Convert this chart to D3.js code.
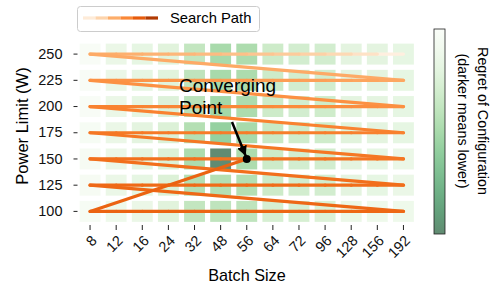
<!DOCTYPE html>
<html>
<head>
<meta charset="utf-8">
<script src="https://cdn.jsdelivr.net/npm/d3@7.9.0/dist/d3.min.js"></script>
<style>
  body { margin: 0; background: #fff; }
  svg { font-family: "Liberation Sans", Arial, sans-serif; }
</style>
</head>
<body>
<svg id="chart" width="498" height="288"></svg>
<script>
const batchSizes = [8, 12, 16, 24, 32, 48, 56, 64, 72, 96, 128, 156, 192];
const powerLimits = [250, 225, 200, 175, 150, 125, 100];

// regret of each configuration, one array per power limit (columns follow batchSizes)
const regret250 = [0.97, 0.85, 0.82, 0.78, 0.62, 0.50, 0.52, 0.67, 0.70, 0.70, 0.80, 0.80, 0.82];
const regret225 = [0.97, 0.85, 0.82, 0.78, 0.60, 0.50, 0.52, 0.67, 0.70, 0.70, 0.80, 0.80, 0.82];
const regret200 = [0.97, 0.85, 0.82, 0.76, 0.58, 0.48, 0.52, 0.67, 0.70, 0.68, 0.80, 0.80, 0.82];
const regret175 = [0.96, 0.85, 0.80, 0.75, 0.55, 0.42, 0.50, 0.65, 0.68, 0.68, 0.78, 0.80, 0.82];
const regret150 = [0.95, 0.85, 0.80, 0.75, 0.52, 0.00, 0.52, 0.67, 0.70, 0.70, 0.80, 0.82, 0.85];
const regret125 = [0.95, 0.85, 0.82, 0.75, 0.55, 0.55, 0.55, 0.67, 0.70, 0.70, 0.80, 0.82, 0.85];
const regret100 = [0.96, 0.88, 0.85, 0.78, 0.62, 0.60, 0.60, 0.72, 0.72, 0.75, 0.85, 0.88, 0.88];
const regretRows = [regret250, regret225, regret200, regret175, regret150, regret125, regret100];

// search path: each power limit is swept from the largest batch size down, then the converging point
const sweepPowers = [250, 225, 200, 175, 150, 125, 100];
const sweepBatches = [192, 156, 128, 96, 72, 64, 56, 48, 32, 24, 16, 12, 8];
const convergePoint = { batch: 56, power: 150 };

const svg = d3.select('#chart');

let x = d3.scaleBand().domain(batchSizes).range([77, 416.5]).paddingInner(0.2).paddingOuter(0.1);
let y = d3.scaleBand().domain(powerLimits).range([41, 224.5]).paddingInner(0.2).paddingOuter(0.1);
let cx = d => x(d) + x.bandwidth() / 2;
let cy = d => y(d) + y.bandwidth() / 2;

let maxRegret = 1;
let shade = r => d3.interpolateGreens(1 - r / maxRegret);

// heatmap cells
let cells = [];
regretRows.forEach((row, i) => {
  row.forEach((r, j) => cells.push({ power: powerLimits[i], batch: batchSizes[j], regret: r }));
});

svg.append('g')
  .selectAll('rect')
  .data(cells)
  .enter()
  .append('rect')
  .attr('x', d => x(d.batch))
  .attr('y', d => y(d.power))
  .attr('width', x.bandwidth())
  .attr('height', y.bandwidth())
  .attr('fill', d => shade(d.regret))
  .attr('fill-opacity', 0.62);

// axes
let yAxis = svg.append('g')
  .attr('transform', 'translate(77.5,0)')
  .call(d3.axisLeft(y).tickSize(4).tickPadding(11));
let xAxis = svg.append('g')
  .attr('transform', 'translate(0,225)')
  .call(d3.axisBottom(x).tickSize(5).tickFormat(''));
[yAxis, xAxis].forEach(a => {
  a.select('.domain').remove();
  a.selectAll('line').attr('stroke', '#222').attr('stroke-width', 1);
});
yAxis.selectAll('text').attr('font-size', 14.5).attr('fill', '#111');

svg.append('g')
  .selectAll('text')
  .data(batchSizes)
  .enter()
  .append('text')
  .attr('transform', d => `translate(${cx(d) + 4},238) rotate(-45)`)
  .attr('text-anchor', 'end')
  .attr('dy', '0.35em')
  .attr('font-size', 14.5)
  .attr('fill', '#111')
  .text(d => d);

svg.append('text')
  .attr('transform', 'translate(22,126) rotate(-90)')
  .attr('text-anchor', 'middle')
  .attr('dominant-baseline', 'central')
  .attr('font-size', 16.5)
  .text('Power Limit (W)');

svg.append('text')
  .attr('x', 247)
  .attr('y', 281)
  .attr('text-anchor', 'middle')
  .attr('font-size', 16.2)
  .text('Batch Size');

// search path
let pathPoints = [];
sweepPowers.forEach(p => sweepBatches.forEach(b => pathPoints.push({ batch: b, power: p })));
pathPoints.push(convergePoint);

let segs = d3.pairs(pathPoints).map(([a, b], i) => ({ a, b, i }));
let pathShade = i => d3.interpolateOranges(0.05 + 0.133 * Math.log(1 + i));

svg.append('g')
  .selectAll('line')
  .data(segs)
  .enter()
  .append('line')
  .attr('x1', d => cx(d.a.batch))
  .attr('y1', d => cy(d.a.power))
  .attr('x2', d => cx(d.b.batch))
  .attr('y2', d => cy(d.b.power))
  .attr('stroke', d => pathShade(d.i))
  .attr('stroke-width', 3.2)
  .attr('stroke-linecap', 'round');

// converging point annotation
let px = cx(convergePoint.batch), py = cy(convergePoint.power);
svg.append('defs').append('marker')
  .attr('id', 'head')
  .attr('viewBox', '0 0 10 10')
  .attr('refX', 10).attr('refY', 5)
  .attr('markerWidth', 4).attr('markerHeight', 4)
  .attr('markerUnits', 'strokeWidth')
  .attr('orient', 'auto')
  .append('path')
  .attr('d', 'M0,0L10,5L0,10z')
  .attr('fill', '#000');

svg.append('line')
  .attr('x1', 232).attr('y1', 122)
  .attr('x2', px - 1).attr('y2', py - 3)
  .attr('stroke', '#000')
  .attr('stroke-width', 2.5)
  .attr('marker-end', 'url(#head)');

svg.append('circle')
  .attr('cx', px).attr('cy', py).attr('r', 4)
  .attr('fill', '#000');

let note = svg.append('text').attr('font-size', 19).attr('fill', '#000');
note.append('tspan').attr('x', 179).attr('y', 92).text('Converging');
note.append('tspan').attr('x', 179).attr('y', 113.5).text('Point');

// legend
let legend = svg.append('g');
legend.append('rect')
  .attr('x', 77.5).attr('y', 6.5)
  .attr('width', 182).attr('height', 25)
  .attr('rx', 3)
  .attr('fill', '#fff')
  .attr('stroke', '#ccc');
let legendStops = [0.08, 0.22, 0.38, 0.52, 0.68, 0.85];
let lx = d3.scaleLinear().domain([0, legendStops.length]).range([83, 158]);
legend.selectAll('line')
  .data(legendStops)
  .enter()
  .append('line')
  .attr('x1', (d, i) => lx(i))
  .attr('x2', (d, i) => lx(i + 1))
  .attr('y1', 18).attr('y2', 18)
  .attr('stroke', d => d3.interpolateOranges(d))
  .attr('stroke-width', 3.2);
legend.append('text')
  .attr('x', 170).attr('y', 18)
  .attr('dy', '0.35em')
  .attr('font-size', 14.8)
  .text('Search Path');

// colorbar
let grad = svg.select('defs').append('linearGradient')
  .attr('id', 'cbar')
  .attr('x1', 0).attr('y1', 0).attr('x2', 0).attr('y2', 1);
d3.range(0, 1.01, 0.1).forEach(t => {
  grad.append('stop')
    .attr('offset', t)
    .attr('stop-color', d3.interpolateGreens(t))
    .attr('stop-opacity', 0.62);
});
svg.append('rect')
  .attr('x', 434).attr('y', 29)
  .attr('width', 11).attr('height', 205)
  .attr('fill', 'url(#cbar)')
  .attr('stroke', '#222')
  .attr('stroke-width', 0.8);

let cbLines = ['Regret of Configuration', '(darker means lower)'];
let cbX = [482.5, 462.5];
svg.append('g')
  .selectAll('text')
  .data(cbLines)
  .enter()
  .append('text')
  .attr('transform', (d, i) => `translate(${cbX[i]},121) rotate(90)`)
  .attr('text-anchor', 'middle')
  .attr('dominant-baseline', 'central')
  .attr('font-size', 14.3)
  .text(d => d);
</script>
</body>
</html>
